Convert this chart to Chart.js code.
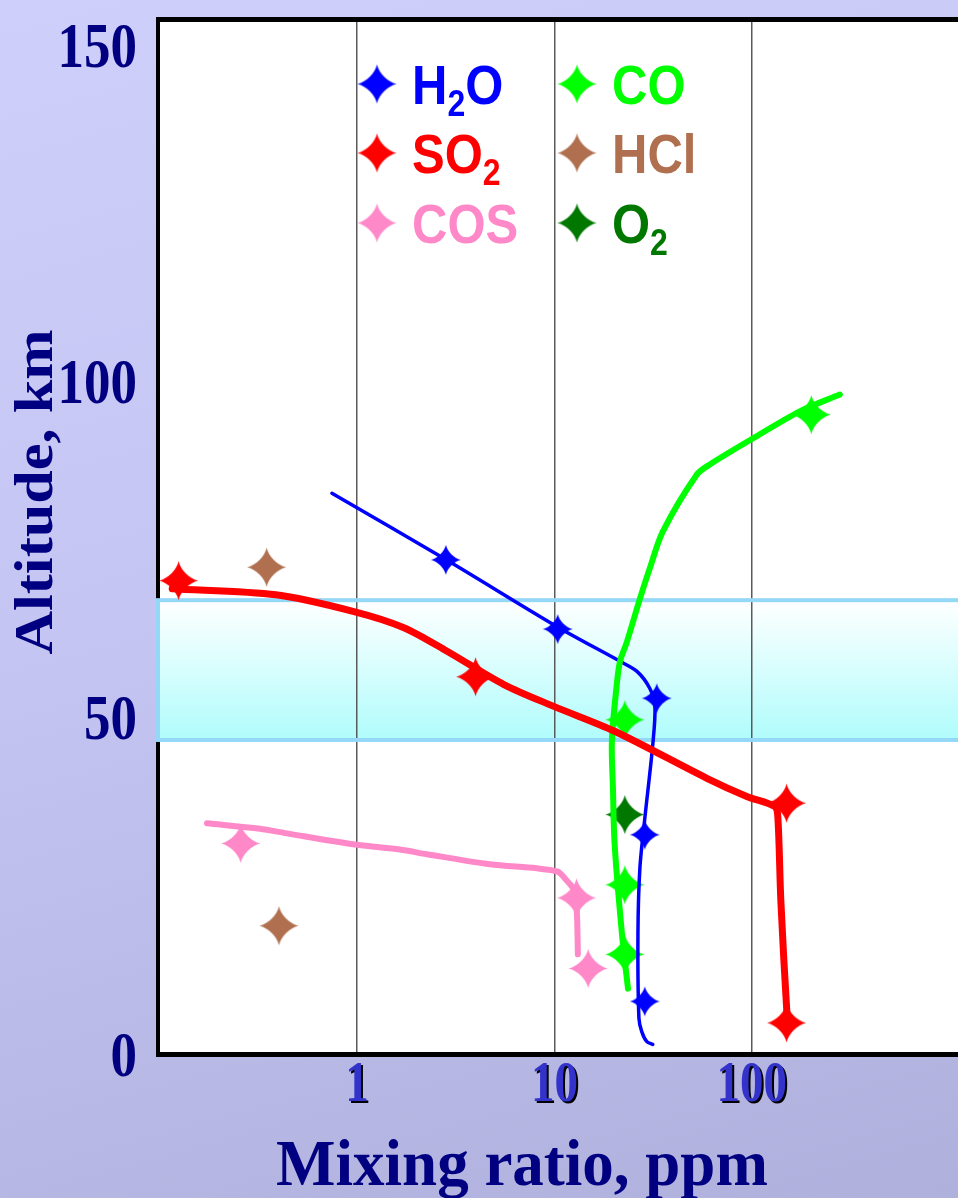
<!DOCTYPE html>
<html>
<head>
<meta charset="utf-8">
<script src="https://cdn.jsdelivr.net/npm/chart.js@4.4.1/dist/chart.umd.min.js"></script>
<style>
html, body { margin: 0; padding: 0; overflow: hidden; }
body { width: 958px; height: 1198px;
  background: linear-gradient(165deg, #cfcffb 0%, #c5c5f3 45%, #b0b0dd 100%); }
#c { display: block; position: absolute; left: 0; top: 0; }
</style>
</head>
<body>
<canvas id="c" width="958" height="1198" style="width:958px;height:1198px"></canvas>
<script>
// ---------------- data ----------------
const species = ['H2O', 'SO2', 'COS', 'CO', 'HCl', 'O2'];
const speciesColors = ['#0000ff', '#ff0000', '#ff88c8', '#00ff00', '#b07050', '#007800'];

const h2oLineX = [0.747, 2.82, 10.54, 21.5, 26.2, 30.4, 32.3, 31.5, 28.7, 27.1, 26.5, 26.8, 27.7, 29.4, 31.5];
const h2oLineY = [83.5, 73.65, 63.5, 58.5, 57.0, 54.5, 51.8, 46.1, 35.1, 27.7, 17.9, 5.4, 3.4, 1.9, 1.5];
const h2oPtX = [2.82, 10.4, 33.0, 28.7, 28.7];
const h2oPtY = [73.6, 63.3, 53.0, 32.7, 7.9];

const so2LineX = [0.116, 0.389, 0.966, 1.73, 2.86, 5.55, 9.94, 20.2, 59.2, 94.3, 130.8, 135.4, 140.3, 150.4, 153];
const so2LineY = [69.3, 68.4, 65.9, 63.5, 60.0, 55.05, 51.8, 48.1, 41.1, 38.4, 36.9, 35.4, 22.8, 6.4, 4.9];
const so2PtX = [0.125, 3.99, 150, 150];
const so2PtY = [70.5, 56.2, 37.4, 4.7];

const coLineX = [23.6, 22.0, 20.2, 19.8, 19.55, 20.7, 21.5, 23.3, 27.1, 30.4, 35.4, 52.7, 61.3, 101, 175, 279];
const coLineY = [9.8, 17.9, 31.2, 39.6, 46.6, 55.05, 58.5, 61.4, 67.8, 72.3, 77.8, 86.3, 87.8, 91.65, 95.7, 98.2];
const coPtX = [200, 22.75, 22.75, 22.75];
const coPtY = [95.2, 49.8, 25.25, 14.9];

const cosLineX = [0.174, 0.323, 0.442, 1.0, 1.65, 2.26, 4.71, 8.15, 10.4, 11.3, 12.7, 13.0, 13.15];
const cosLineY = [34.4, 33.6, 32.9, 31.2, 30.5, 29.8, 28.3, 27.7, 27.2, 26.2, 24.25, 21.3, 14.9];
const cosPtX = [0.258, 12.95, 14.83];
const cosPtY = [31.4, 23.3, 12.8];

const hclPtX = [0.349, 0.403];
const hclPtY = [72.5, 19.15];

const o2PtX = [22.75];
const o2PtY = [35.7];

const cloudLayer = [46.8, 67.6];          // km, shaded band
const xTickValues = [1, 10, 100];
const xTickLabels = ['1', '10', '100'];
const yTickValues = [0, 50, 100, 150];
const yTickLabels = ['0', '50', '100', '150'];
const xTitle = 'Mixing ratio, ppm';
const yTitle = 'Altitude, km';

// ---------------- helpers ----------------
const zip = (xs, ys) => xs.map((x, i) => ({ x: x, y: ys[i] }));

function starCanvas(color, r) {
  const c = document.createElement('canvas');
  const s = Math.ceil(2 * r + 2);
  c.width = s; c.height = s;
  const g = c.getContext('2d');
  const cx = s / 2, cy = s / 2, a = 0.1 * r, b = 0.55 * r;
  g.beginPath();
  g.moveTo(cx, cy - r);
  g.bezierCurveTo(cx + a, cy - b, cx + b, cy - a, cx + r, cy);
  g.bezierCurveTo(cx + b, cy + a, cx + a, cy + b, cx, cy + r);
  g.bezierCurveTo(cx - a, cy + b, cx - b, cy + a, cx - r, cy);
  g.bezierCurveTo(cx - b, cy - a, cx - a, cy - b, cx, cy - r);
  g.closePath();
  g.fillStyle = color;
  g.fill();
  return c;
}

const col = {};
species.forEach((s, i) => col[s] = speciesColors[i]);

function lineDs(label, xs, ys, color, width, order) {
  return { label: label, data: zip(xs, ys), borderColor: color, borderWidth: width,
    pointRadius: 0, showLine: true, fill: false, tension: 0.3,
    borderCapStyle: 'round', borderJoinStyle: 'round', order: order };
}
function markDs(label, xs, ys, color, r, order) {
  return { label: label, data: zip(xs, ys), showLine: false, borderColor: color,
    backgroundColor: color, pointStyle: starCanvas(color, r), pointRadius: r,
    order: order };
}

const datasets = [
  lineDs('SO2', so2LineX, so2LineY, col.SO2, 7, 0),
  lineDs('CO', coLineX, coLineY, col.CO, 6, 1),
  lineDs('H2O', h2oLineX, h2oLineY, col.H2O, 3.5, 2),
  lineDs('COS', cosLineX, cosLineY, col.COS, 6, 3),
  markDs('SO2', so2PtX, so2PtY, col.SO2, 19.5, 10),
  markDs('CO', coPtX, coPtY, col.CO, 19.5, 11),
  markDs('O2', o2PtX, o2PtY, col.O2, 19.5, 12),
  markDs('H2O', h2oPtX, h2oPtY, col.H2O, 15, 9),
  markDs('COS', cosPtX, cosPtY, col.COS, 19.5, 13),
  markDs('HCl', hclPtX, hclPtY, col.HCl, 19.5, 14)
];

const NAVY = '#000080';

function drawText(ctx, text, x, y, font, color, align, sx, sy, rot) {
  ctx.save();
  ctx.translate(x, y);
  if (rot) ctx.rotate(rot);
  ctx.scale(sx, sy);
  ctx.font = font;
  ctx.fillStyle = color;
  ctx.textAlign = align;
  ctx.textBaseline = 'alphabetic';
  ctx.fillText(text, 0, 0);
  ctx.restore();
}

function drawChem(ctx, label, x, baseline, color) {
  const parts = label.match(/[A-Za-z]+|\d+/g);
  let cx = x;
  parts.forEach(p => {
    const sub = /\d/.test(p);
    const font = sub ? 'bold 32px "Liberation Sans", Arial, sans-serif'
                     : 'bold 49px "Liberation Sans", Arial, sans-serif';
    ctx.save();
    ctx.font = font;
    const w = ctx.measureText(p).width;
    ctx.restore();
    drawText(ctx, p, cx, baseline + (sub ? 12 : 0), font, color, 'left', 1, 1.14, 0);
    cx += w;
  });
}

const decor = {
  id: 'decor',
  beforeDraw(chart) {
    const { ctx, chartArea: a, scales: { y } } = chart;
    ctx.save();
    ctx.fillStyle = '#ffffff';
    ctx.fillRect(a.left, a.top, a.right - a.left, a.bottom - a.top);
    const yt = y.getPixelForValue(cloudLayer[1]);
    const yb = y.getPixelForValue(cloudLayer[0]);
    const g = ctx.createLinearGradient(0, yt, 0, yb);
    g.addColorStop(0, '#ffffff');
    g.addColorStop(1, '#b0fcfc');
    ctx.fillStyle = g;
    ctx.fillRect(a.left - 2, yt, a.right - a.left + 4, yb - yt);
    ctx.restore();
  },
  beforeDatasetsDraw(chart) {
    const { ctx, chartArea: a, scales: { y } } = chart;
    const yt = y.getPixelForValue(cloudLayer[1]);
    const yb = y.getPixelForValue(cloudLayer[0]);
    ctx.save();
    ctx.strokeStyle = '#94d8f8';
    ctx.lineWidth = 4;
    ctx.strokeRect(a.left, yt, a.right - a.left + 10, yb - yt);
    ctx.restore();
  },
  afterDraw(chart) {
    const { ctx, chartArea: a, scales: { x, y } } = chart;
    // top frame line
    ctx.save();
    ctx.fillStyle = '#000';
    ctx.fillRect(a.left - 2, a.top - 2.5, a.right - a.left + 4, 5);
    ctx.restore();

    // y tick labels
    yTickValues.forEach((v, i) => {
      drawText(ctx, yTickLabels[i], 137, y.getPixelForValue(v) + 21,
        'bold 53px "Liberation Serif", "Times New Roman", serif', NAVY, 'right', 1, 1.18, 0);
    });
    // x tick labels with shadow
    ctx.save();
    ctx.shadowColor = '#000000';
    ctx.shadowOffsetX = 2;
    ctx.shadowOffsetY = 2;
    ctx.shadowBlur = 0;
    xTickValues.forEach((v, i) => {
      drawText(ctx, xTickLabels[i], x.getPixelForValue(v), 1101,
        'bold 47px "Liberation Serif", "Times New Roman", serif', '#3333cc', 'center', 1, 1.2, 0);
    });
    ctx.restore();

    // axis titles
    drawText(ctx, xTitle, 522, 1185, 'bold 63px "Liberation Serif", "Times New Roman", serif',
      NAVY, 'center', 1, 1.04, 0);
    drawText(ctx, yTitle, 52, 492, 'bold 54px "Liberation Serif", "Times New Roman", serif',
      NAVY, 'center', 1.117, 1, -Math.PI / 2);

    // legend
    const colX = [377, 577];
    const rowY = [84, 153, 223];
    species.forEach((s, i) => {
      const c = Math.floor(i / 3), r = i % 3;
      const img = starCanvas(col[s], 19.5);
      ctx.drawImage(img, colX[c] - img.width / 2, rowY[r] - img.height / 2);
      drawChem(ctx, s, colX[c] + 35, rowY[r] + 20, col[s]);
    });
  }
};

new Chart(document.getElementById('c'), {
  type: 'line',
  data: { datasets: datasets },
  options: {
    responsive: false,
    maintainAspectRatio: false,
    devicePixelRatio: 1,
    animation: false,
    events: [],
    layout: { autoPadding: false, padding: { top: 19.5, left: 0, right: 0, bottom: 0 } },
    plugins: { legend: { display: false }, tooltip: { enabled: false }, title: { display: false } },
    scales: {
      x: {
        type: 'logarithmic', min: 0.0983, max: 1107,
        afterBuildTicks: s => { s.ticks = xTickValues.map(v => ({ value: v })); },
        afterFit: s => { s.height = 143.5; s.paddingLeft = 0; s.paddingRight = 0; },
        ticks: { display: false },
        grid: { color: '#5a5a5a', lineWidth: 1.5, drawTicks: false },
        border: { display: true, color: '#000000', width: 5 }
      },
      y: {
        type: 'linear', min: 0, max: 154,
        afterBuildTicks: s => { s.ticks = yTickValues.map(v => ({ value: v })); },
        afterFit: s => { s.width = 158; s.paddingTop = 0; s.paddingBottom = 0; },
        ticks: { display: false },
        grid: { display: false, drawTicks: false },
        border: { display: true, color: '#000000', width: 4 }
      }
    }
  },
  plugins: [decor]
});
</script>
</body>
</html>
